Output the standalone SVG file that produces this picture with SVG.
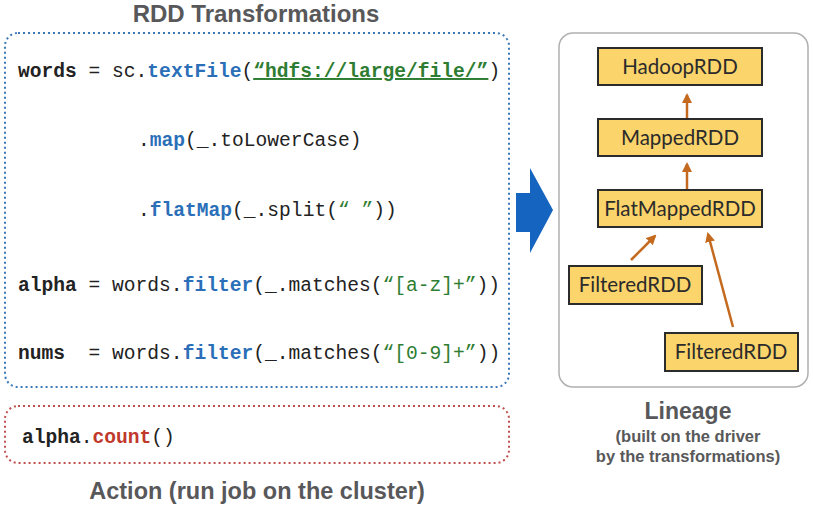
<svg xmlns="http://www.w3.org/2000/svg" width="813" height="507" viewBox="0 0 813 507">
<defs>
<style>
.title{font-family:"Liberation Sans",Arial,sans-serif;font-weight:bold;fill:#58585a;text-anchor:middle}
.code{font-family:"Liberation Mono","Courier New",monospace;font-size:19.6px;fill:#222}
.b{font-weight:bold}
.kw{font-weight:bold;fill:#2a6fb8}
.str{fill:#2e7d32}
.act{font-weight:bold;fill:#c0392b}
.node rect{fill:#fbd46b;stroke:#2b2b2b;stroke-width:2}
.node text{font-family:Lato,"Open Sans",sans-serif;font-size:20.5px;fill:#2b2b2b;text-anchor:middle}
.conn line{stroke:#c46a1f;stroke-width:2.5}
</style>
<marker id="ah" viewBox="0 0 10 10" refX="8" refY="5" markerWidth="4" markerHeight="4" orient="auto" markerUnits="strokeWidth">
<path d="M0,0 L10,5 L0,10 z" fill="#c46a1f"/>
</marker>
</defs>
<rect width="813" height="507" fill="#fff"/>
<text class="title" x="256" y="22" font-size="24">RDD Transformations</text>
<rect x="5" y="33" width="504" height="354" rx="13" fill="none" stroke="#3a78b8" stroke-width="2" stroke-dasharray="2 3"/>
<g id="code">
<text class="code" x="18" y="77"><tspan class="b">words</tspan> = sc.<tspan class="kw">textFile</tspan>(<tspan class="str b" text-decoration="underline">“hdfs://large/file/”</tspan>)</text>
<text class="code" x="138" y="146">.<tspan class="kw">map</tspan>(_.toLowerCase)</text>
<text class="code" x="138" y="216">.<tspan class="kw">flatMap</tspan>(_.split(<tspan class="str">“ ”</tspan>))</text>
<text class="code" x="18" y="291"><tspan class="b">alpha</tspan> = words.<tspan class="kw">filter</tspan>(_.matches(<tspan class="str">“[a-z]+”</tspan>))</text>
<text class="code" x="18" y="359" xml:space="preserve"><tspan class="b">nums</tspan>  = words.<tspan class="kw">filter</tspan>(_.matches(<tspan class="str">“[0-9]+”</tspan>))</text>
</g>
<rect x="5" y="406" width="504" height="57" rx="13" fill="none" stroke="#c0504d" stroke-width="2" stroke-dasharray="2 3"/>
<text class="code" x="22" y="443"><tspan class="b">alpha</tspan>.<tspan class="act">count</tspan>()</text>
<text class="title" x="257" y="499" font-size="23.5">Action (run job on the cluster)</text>
<path d="M516,193 L530,193 L530,168 L553,210 L530,253 L530,232 L516,232 Z" fill="#1565c0"/>
<rect x="559" y="33" width="249" height="354" rx="14" fill="none" stroke="#b0b0b0" stroke-width="1.5"/>
<g class="conn" id="connectors">
<line x1="687" y1="119" x2="687" y2="95" marker-end="url(#ah)"/>
<line x1="687" y1="190" x2="687" y2="164" marker-end="url(#ah)"/>
<line x1="631" y1="260" x2="655" y2="236" marker-end="url(#ah)"/>
<line x1="733" y1="327" x2="708" y2="234" marker-end="url(#ah)"/>
</g>
<g class="node" id="hadoop"><rect x="598" y="48" width="164" height="37"/><text x="680" y="74">HadoopRDD</text></g>
<g class="node" id="mapped"><rect x="598" y="119" width="164" height="37"/><text x="680" y="145">MappedRDD</text></g>
<g class="node" id="flatmapped"><rect x="598" y="190" width="164" height="37"/><text x="680" y="216">FlatMappedRDD</text></g>
<g class="node" id="filtered1"><rect x="569" y="266" width="133" height="38"/><text x="635" y="292">FilteredRDD</text></g>
<g class="node" id="filtered2"><rect x="665" y="333" width="133" height="38"/><text x="731" y="359">FilteredRDD</text></g>
<text class="title" x="688" y="419" font-size="23">Lineage</text>
<text class="title" x="688" y="442" font-size="16.5">(built on the driver</text>
<text class="title" x="688" y="462" font-size="16.5">by the transformations)</text>
</svg>
